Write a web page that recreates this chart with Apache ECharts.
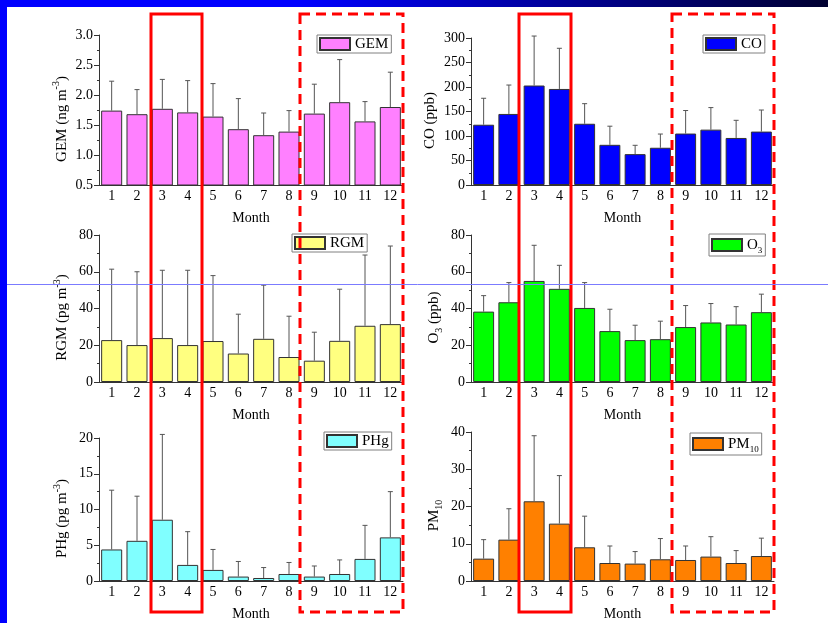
<!DOCTYPE html>
<html>
<head>
<meta charset="utf-8">
<script src="https://cdn.jsdelivr.net/npm/echarts@6/dist/echarts.min.js"></script>
<style>
  html, body { margin: 0; padding: 0; background: #fff; }
  #chart { width: 828px; height: 623px; }
</style>
</head>
<body>
<div id="chart"></div>
<script>
const months = ['1', '2', '3', '4', '5', '6', '7', '8', '9', '10', '11', '12']

// monthly means and standard deviations (upper error bar)
const gemMean = [1.74, 1.68, 1.77, 1.71, 1.64, 1.43, 1.33, 1.39, 1.69, 1.88, 1.56, 1.80]
const gemSd = [0.49, 0.41, 0.49, 0.53, 0.55, 0.51, 0.37, 0.35, 0.49, 0.71, 0.33, 0.58]
const coMean = [123, 145, 203, 196, 125, 82, 63, 76, 105, 113, 96, 109]
const coSd = [54, 59, 101, 83, 41, 38, 18, 28, 47, 45, 36, 44]
const rgmMean = [22.8, 20.1, 23.9, 20.1, 22.3, 15.5, 23.5, 13.6, 11.6, 22.4, 30.6, 31.5]
const rgmSd = [38.6, 39.9, 36.9, 40.7, 35.6, 21.4, 29.2, 22.2, 15.5, 28.1, 38.5, 42.5]
const o3Mean = [38.3, 43.4, 55.0, 50.7, 40.3, 27.7, 22.8, 23.3, 29.9, 32.4, 31.3, 38.0]
const o3Sd = [8.7, 10.7, 19.4, 12.8, 13.8, 11.9, 8.1, 9.8, 11.7, 10.3, 9.7, 9.8]
const phgMean = [4.41, 5.62, 8.57, 2.25, 1.55, 0.62, 0.42, 0.98, 0.62, 0.98, 3.09, 6.10]
const phgSd = [8.29, 6.24, 11.93, 4.65, 2.86, 2.11, 1.46, 1.61, 1.48, 1.97, 4.69, 6.40]
const pmMean = [6.0, 11.1, 21.4, 15.4, 9.05, 4.83, 4.67, 5.83, 5.64, 6.55, 4.83, 6.70]
const pmSd = [5.1, 8.3, 17.6, 12.9, 8.35, 4.57, 3.23, 5.57, 3.76, 5.35, 3.33, 4.80]

const FONT = 'Liberation Serif'

// one entry per panel: data + look
const panels = [
  { name: 'GEM', mean: gemMean, sd: gemSd, color: '#ff80ff', min: 0.5, max: 3.0, interval: 0.5, dec: 1,
    grid: { left: 99, top: 35, width: 304, height: 150 }, legend: { left: 317, top: 35 },
    title: 'GEM (ng m{sup|-3})', legendText: 'GEM' },
  { name: 'CO', mean: coMean, sd: coSd, color: '#0000ff', min: 0, max: 300, interval: 50, dec: 0,
    grid: { left: 471, top: 38, width: 303, height: 147 }, legend: { left: 703, top: 35 },
    title: 'CO (ppb)', legendText: 'CO' },
  { name: 'RGM', mean: rgmMean, sd: rgmSd, color: '#ffff80', min: 0, max: 80, interval: 20, dec: 0,
    grid: { left: 99, top: 235, width: 304, height: 147 }, legend: { left: 292, top: 234 },
    title: 'RGM (pg m{sup|-3})', legendText: 'RGM' },
  { name: 'O3', mean: o3Mean, sd: o3Sd, color: '#00ff00', min: 0, max: 80, interval: 20, dec: 0,
    grid: { left: 471, top: 235, width: 303, height: 147 }, legend: { left: 709, top: 234 },
    title: 'O{sub|3} (ppb)', legendText: '{n|O}{sub|3}' },
  { name: 'PHg', mean: phgMean, sd: phgSd, color: '#80ffff', min: 0, max: 20, interval: 5, dec: 0,
    grid: { left: 99, top: 438, width: 304, height: 143 }, legend: { left: 324, top: 432 },
    title: 'PHg (pg m{sup|-3})', legendText: 'PHg' },
  { name: 'PM10', mean: pmMean, sd: pmSd, color: '#ff8000', min: 0, max: 40, interval: 10, dec: 0,
    grid: { left: 471, top: 432, width: 303, height: 149 }, legend: { left: 690, top: 433 },
    title: 'PM{sub|10}', legendText: '{n|PM}{sub|10}' }
]

const rich = {
  n: { fontFamily: FONT, fontSize: 15, color: '#000', lineHeight: 20, verticalAlign: 'middle' },
  sup: { fontFamily: FONT, fontSize: 10, color: '#000', lineHeight: 20, verticalAlign: 'top' },
  sub: { fontFamily: FONT, fontSize: 10, color: '#000', lineHeight: 20, verticalAlign: 'bottom' }
}

const grids = [], xAxes = [], yAxes = [], series = [], legends = []

panels.forEach((p, i) => {
  grids.push(p.grid)
  xAxes.push({
    type: 'category', gridIndex: i, data: months,
    name: 'Month', nameLocation: 'middle', nameGap: 26,
    nameTextStyle: { fontFamily: FONT, fontSize: 14, color: '#000' },
    axisLine: { lineStyle: { color: '#333' } },
    axisTick: { alignWithLabel: true, length: 3, lineStyle: { color: '#333' } },
    axisLabel: { fontFamily: FONT, fontSize: 14, color: '#000', margin: 4, interval: 0 }
  })
  yAxes.push({
    type: 'value', gridIndex: i, min: p.min, max: p.max, interval: p.interval,
    name: p.title, nameLocation: 'middle', nameGap: 27, nameRotate: 90,
    nameTextStyle: { fontFamily: FONT, fontSize: 15, color: '#000', lineHeight: 20,
      padding: [0, 18, 0, 0], rich: rich },
    splitLine: { show: false },
    axisLine: { show: true, lineStyle: { color: '#333' } },
    axisTick: { show: true, length: 5, lineStyle: { color: '#333' } },
    minorTick: { show: true, splitNumber: 2, length: 2, lineStyle: { color: '#333' } },
    axisLabel: { fontFamily: FONT, fontSize: 14, color: '#000', margin: 6,
      formatter: v => v.toFixed(p.dec) }
  })
  series.push({
    name: p.name, type: 'bar', xAxisIndex: i, yAxisIndex: i,
    data: p.mean, barCategoryGap: '17%', clip: true,
    itemStyle: { color: p.color, borderColor: '#333', borderWidth: 1 }
  })
  series.push({
    type: 'custom', xAxisIndex: i, yAxisIndex: i, z: 3, clip: false,
    data: p.mean.map((m, k) => [k, m, m + p.sd[k]]),
    renderItem: (params, api) => {
      const base = api.coord([api.value(0), api.value(1)])
      const top = api.coord([api.value(0), api.value(2)])
      const st = { stroke: '#555', lineWidth: 1 }
      return {
        type: 'group',
        children: [
          { type: 'line', shape: { x1: base[0], y1: base[1], x2: top[0], y2: top[1] }, style: st },
          { type: 'line', shape: { x1: top[0] - 2.5, y1: top[1], x2: top[0] + 2.5, y2: top[1] }, style: st }
        ]
      }
    }
  })
  legends.push({
    data: [{ name: p.name, icon: 'rect' }], left: p.legend.left, top: p.legend.top,
    orient: 'vertical', padding: [1, 3, 1, 2],
    borderColor: '#808080', borderWidth: 1,
    itemWidth: 30, itemHeight: 12, itemGap: 0,
    formatter: () => p.legendText,
    textStyle: { fontFamily: FONT, fontSize: 15, color: '#000', lineHeight: 16,
      rich: {
        n: { fontFamily: FONT, fontSize: 15, color: '#000', lineHeight: 20, verticalAlign: 'middle' },
        sub: { fontFamily: FONT, fontSize: 9, color: '#000', lineHeight: 20, verticalAlign: 'bottom' }
      } }
  })
})

// slide decoration and highlight boxes
const redSolid = { stroke: '#ff0000', lineWidth: 3, fill: null }
const redDash = { stroke: '#ff0000', lineWidth: 3, fill: null, lineDash: [10, 6] }
const graphic = [
  { type: 'rect', shape: { x: 0, y: 0, width: 828, height: 7 }, z: 10,
    style: { fill: new echarts.graphic.LinearGradient(0, 0, 1, 0, [
      { offset: 0, color: '#0000ff' }, { offset: 0.36, color: '#0000ff' },
      { offset: 0.7, color: '#000090' }, { offset: 1, color: '#000030' }]) } },
  { type: 'rect', shape: { x: 0, y: 0, width: 7, height: 623 }, z: 10, style: { fill: '#0000ff' } },
  { type: 'line', shape: { x1: 7, y1: 284.5, x2: 828, y2: 284.5 }, z: 10,
    style: { stroke: '#7b7bff', lineWidth: 1 } },
  { type: 'rect', shape: { x: 151, y: 14, width: 51, height: 598 }, z: 9, style: redSolid },
  { type: 'rect', shape: { x: 300, y: 14, width: 103, height: 598 }, z: 9, style: redDash },
  { type: 'rect', shape: { x: 519, y: 14, width: 52, height: 598 }, z: 9, style: redSolid },
  { type: 'rect', shape: { x: 672, y: 14, width: 102, height: 598 }, z: 9, style: redDash }
]

const chart = echarts.init(document.getElementById('chart'))
chart.setOption({
  backgroundColor: '#fff',
  animation: false,
  grid: grids,
  xAxis: xAxes,
  yAxis: yAxes,
  legend: legends,
  series: series,
  graphic: graphic
})
</script>
</body>
</html>
